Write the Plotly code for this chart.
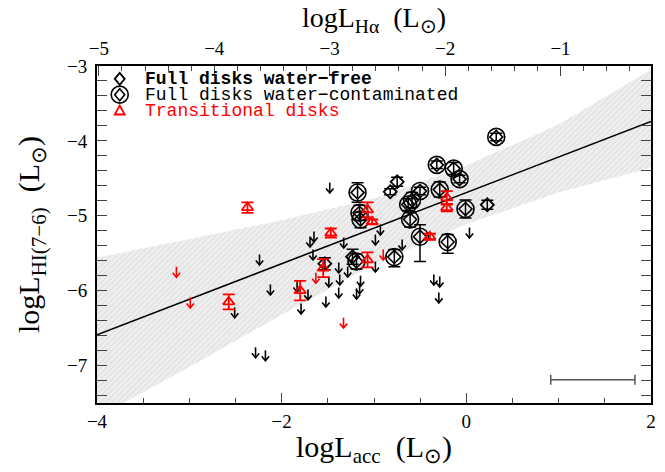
import plotly.graph_objects as go

# ---------------- data ----------------
# Full disks water-free (small open diamonds)
wf_x = [-0.749, -0.824, 0.227, -1.232, -1.532]
wf_y = [-4.547, -4.680, -4.853, -5.547, -5.640]
wf_e = [0.06, 0.04, 0.06, 0.10, 0.08]

# Full disks water-contaminated (circled diamonds)
wc_x = [0.324, -0.320, -0.137, -0.073, -0.502, -0.288, -0.588, -0.630, -0.609,
        -0.502, -0.202, -0.009, -1.178, -1.157, -1.146, -0.780, -1.190]
wc_y = [-3.947, -4.320, -4.370, -4.510, -4.670, -4.650, -4.790, -4.850, -5.050,
        -5.280, -5.350, -4.910, -4.690, -4.960, -5.050, -5.550, -5.610]
wc_ep = [0.05, 0.05, 0.08, 0.05, 0.05, 0.10, 0.10, 0.08, 0.10,
         0.16, 0.10, 0.12, 0.13, 0.10, 0.10, 0.10, 0.10]
wc_em = [0.05, 0.05, 0.08, 0.05, 0.05, 0.10, 0.10, 0.08, 0.10,
         0.33, 0.15, 0.12, 0.13, 0.10, 0.11, 0.13, 0.10]

# Transitional disks detections (red triangles)
td_x = [-2.370, -1.468, -1.070, -1.020, -0.212, -0.212, -0.395, -1.070, -1.800, -2.573, -1.550]
td_y = [-4.890, -5.230, -4.920, -5.080, -4.760, -4.890, -5.280, -5.590, -6.000, -6.150, -5.700]
td_e = [0.07, 0.06, 0.10, 0.03, 0.09, 0.05, 0.04, 0.10, 0.13, 0.10, 0.12]

# Transitional disks upper limits (red arrows)
tu_x = [-3.14, -2.99, -1.63, -1.33, -0.90]
tu_y = [-5.75, -6.16, -5.83, -6.43, -5.52]

# Full disks upper limits (black arrows)
ul_x = [-1.479, -1.693, -1.650, -1.328, -2.240, -1.661, -1.382, -1.285, -0.985,
        -1.489, -1.371, -1.146, -1.156, -2.122, -1.833, -1.715, -1.382, -1.189,
        -1.521, -1.790, -2.509, -2.283, -2.176, -0.931, -0.985, 0.034, -0.695,
        -0.352, -0.288, -0.298]
ul_y = [-4.627, -5.347, -5.280, -5.360, -5.587, -5.520, -5.693, -5.747, -5.680,
        -5.880, -5.853, -5.870, -5.970, -5.987, -5.947, -6.053, -6.027, -6.040,
        -6.147, -6.240, -6.293, -6.827, -6.867, -5.187, -5.320, -5.227, -5.387,
        -5.853, -5.880, -6.093]

# Linear fit and confidence band
fit_slope = 0.475
fit_intercept = -4.69
fit_x = [-4.0, 2.0]
band_x = [-4.0, -3.0, -2.0, -1.0, 0.0, 1.0, 2.0]
band_up = [-5.56, -5.31, -5.06, -4.77, -4.33, -3.78, -3.05]
band_lo = [-7.69, -7.02, -6.32, -5.65, -5.11, -4.69, -4.36]

# Representative error bar (bottom right)
rep_x = [1.37]
rep_y = [-7.19]
rep_ex = [0.456]

# Halpha conversion (top axis): logLacc = a*logLHa + b
ha_a = 1.25
ha_b = 2.27
xrange = [-4.0, 2.0]
yrange = [-7.5, -3.0]

# legend labels
leg_labels = ["Full disks water−free", "Full disks water−contaminated", "Transitional disks"]

RED = "#ff0000"
SERIF = "Liberation Serif"
MONO = "Liberation Mono"

# arrow geometry (data units): half stem length, head half-width, head height
AH, AW, AD = 0.07, 0.040, 0.06


def arrow_paths(xs, ys):
    px, py = [], []
    for x, y in zip(xs, ys):
        px += [x, x, None, x - AW, x, x + AW, None]
        py += [y + AH, y - AH, None, y - AH + AD, y - AH, y - AH + AD, None]
    return px, py


fig = go.Figure()

# confidence band
fig.add_trace(go.Scatter(x=band_x, y=band_lo, mode="lines", line=dict(width=0),
                         showlegend=False, hoverinfo="skip"))
fig.add_trace(go.Scatter(x=band_x, y=band_up, mode="lines", line=dict(width=0),
                         fill="tonexty", fillcolor="rgba(232,232,232,1)",
                         fillpattern=dict(shape="/", fgcolor="#cfcfcf", bgcolor="#efefef",
                                          size=4, solidity=0.3),
                         showlegend=False, hoverinfo="skip"))

# fit line
fig.add_trace(go.Scatter(x=fit_x, y=[fit_slope * v + fit_intercept for v in fit_x],
                         mode="lines", line=dict(color="black", width=1.6),
                         showlegend=False, hoverinfo="skip"))

# upper limits (arrows)
ax, ay = arrow_paths(ul_x, ul_y)
fig.add_trace(go.Scatter(x=ax, y=ay, mode="lines", line=dict(color="black", width=1.6),
                         showlegend=False, hoverinfo="skip"))
ax, ay = arrow_paths(tu_x, tu_y)
fig.add_trace(go.Scatter(x=ax, y=ay, mode="lines", line=dict(color=RED, width=1.6),
                         showlegend=False, hoverinfo="skip"))

# water-free
fig.add_trace(go.Scatter(x=wf_x, y=wf_y, mode="markers", showlegend=False,
                         marker=dict(symbol="diamond-open", size=10, color="black",
                                     line=dict(width=1.8, color="black")),
                         error_y=dict(type="data", array=wf_e, color="black",
                                      thickness=1.5, width=6)))
# water-contaminated: circle + diamond
fig.add_trace(go.Scatter(x=wc_x, y=wc_y, mode="markers", showlegend=False,
                         marker=dict(symbol="diamond-open", size=10, color="black",
                                     line=dict(width=1.6, color="black")),
                         error_y=dict(type="data", array=wc_ep, arrayminus=wc_em,
                                      color="black", thickness=1.5, width=6)))
fig.add_trace(go.Scatter(x=wc_x, y=wc_y, mode="markers", showlegend=False,
                         marker=dict(symbol="circle-open", size=17, color="black",
                                     line=dict(width=1.6, color="black"))))
# transitional
fig.add_trace(go.Scatter(x=td_x, y=td_y, mode="markers", showlegend=False,
                         marker=dict(symbol="triangle-up-open", size=10, color=RED,
                                     line=dict(width=1.8, color=RED)),
                         error_y=dict(type="data", array=td_e, color=RED,
                                      thickness=1.8, width=6)))

# representative error bar
fig.add_trace(go.Scatter(x=rep_x, y=rep_y, mode="markers", marker=dict(size=0.1, color="#555"),
                         error_x=dict(type="data", array=rep_ex, color="#555",
                                      thickness=1.5, width=5),
                         showlegend=False, hoverinfo="skip"))

# dummy trace on the top axis
fig.add_trace(go.Scatter(x=[(v - ha_b) / ha_a for v in xrange], y=yrange, xaxis="x2",
                         mode="markers", marker=dict(opacity=0), showlegend=False,
                         hoverinfo="skip"))

# ---- legend (drawn as layout keys + text) ----
key_x = 0.041
txt_x = 0.084
rows = [0.962, 0.915, 0.868]
shapes = [
    dict(type="path", xref="paper", yref="paper", xsizemode="pixel", ysizemode="pixel",
         xanchor=key_x, yanchor=rows[0], path="M0,6 L5,0 L0,-6 L-5,0 Z",
         line=dict(color="black", width=1.8)),
    dict(type="path", xref="paper", yref="paper", xsizemode="pixel", ysizemode="pixel",
         xanchor=key_x, yanchor=rows[1], path="M0,6 L5,0 L0,-6 L-5,0 Z",
         line=dict(color="black", width=1.6)),
    dict(type="circle", xref="paper", yref="paper", xsizemode="pixel", ysizemode="pixel",
         xanchor=key_x, yanchor=rows[1], x0=-8.5, x1=8.5, y0=-8.5, y1=8.5,
         line=dict(color="black", width=1.6)),
    dict(type="path", xref="paper", yref="paper", xsizemode="pixel", ysizemode="pixel",
         xanchor=key_x, yanchor=rows[2], path="M0,5 L5,-4 L-5,-4 Z",
         line=dict(color=RED, width=1.8)),
]
leg_fonts = [dict(family=MONO, size=18, color="black", weight="bold"),
             dict(family=MONO, size=18, color="black"),
             dict(family=MONO, size=18, color=RED)]
annotations = [dict(xref="paper", yref="paper", x=txt_x, y=r, xanchor="left", yanchor="middle",
                    text=t, showarrow=False, font=f, height=15, valign="middle", borderpad=0)
               for t, r, f in zip(leg_labels, rows, leg_fonts)]

tickfont = dict(family=SERIF, size=19, color="black")
titlefont = dict(family=SERIF, size=30, color="black")
fig.update_layout(
    width=665, height=472,
    margin=dict(l=97, r=9, t=66, b=69),
    plot_bgcolor="white", paper_bgcolor="white",
    showlegend=False,
    shapes=shapes, annotations=annotations,
    xaxis=dict(range=xrange, dtick=2, tick0=-4, ticks="inside", ticklen=10, tickwidth=1.2,
               minor=dict(dtick=0.5, ticks="inside", ticklen=5, tickwidth=1),
               showline=True, linecolor="black", linewidth=2, mirror=True,
               showgrid=False, zeroline=False, tickfont=tickfont,
               title=dict(text="logL<sub>acc</sub>  (L<sub>⊙</sub>)", font=titlefont, standoff=5)),
    xaxis2=dict(range=[(v - ha_b) / ha_a for v in xrange], overlaying="x", side="top",
                dtick=1, tick0=-5, ticks="inside", ticklen=10, tickwidth=1.2,
                minor=dict(dtick=0.2, ticks="inside", ticklen=5, tickwidth=1),
                showline=False, showgrid=False, zeroline=False, tickfont=tickfont,
                ticklabelstandoff=6,
                title=dict(text="logL<sub>Hα</sub>  (L<sub>⊙</sub>)",
                           font=dict(family=SERIF, size=28, color="black"), standoff=2)),
    yaxis=dict(range=yrange, dtick=1, tick0=-7, ticks="inside", ticklen=10, tickwidth=1.2,
               minor=dict(dtick=0.2, ticks="inside", ticklen=5, tickwidth=1),
               showline=True, linecolor="black", linewidth=2, mirror="allticks",
               showgrid=False, zeroline=False, tickfont=tickfont, ticklabelstandoff=4,
               title=dict(text="logL<sub>HI(7−6)</sub>  (L<sub>⊙</sub>)", font=titlefont,
                          standoff=18)),
)

fig.write_html("out.html")
